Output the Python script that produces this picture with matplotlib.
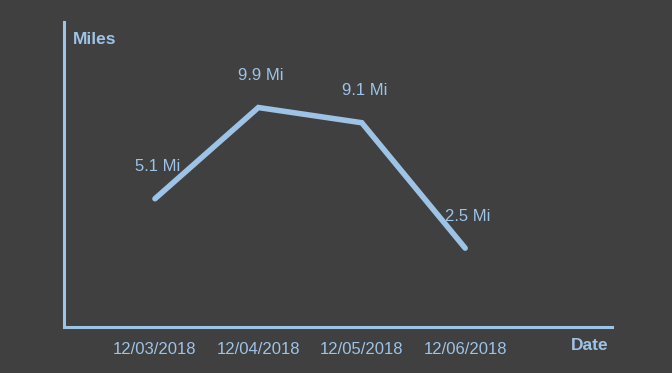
import matplotlib
matplotlib.use("Agg")
import matplotlib.pyplot as plt

dates = ["12/03/2018", "12/04/2018", "12/05/2018", "12/06/2018"]
miles = [5.1, 9.9, 9.1, 2.5]
labels = ["5.1 Mi", "9.9 Mi", "9.1 Mi", "2.5 Mi"]

bg = "#404040"
blue = "#9dc3e6"
plt.rcParams["font.family"] = ["Liberation Sans", "DejaVu Sans"]

fig = plt.figure(figsize=(6.72, 3.73), dpi=100, facecolor=bg)
ax = fig.add_axes([0.0952, 0.1233, 0.8155, 0.8177], facecolor=bg)

x = list(range(len(dates)))
ax.plot(x, miles, color=blue, lw=4, solid_capstyle="round", solid_joinstyle="miter")
for xi, yi, lab in zip(x, miles, labels):
    ax.annotate(lab, (xi, yi), xytext=(2, 23), textcoords="offset points",
                ha="center", va="center", color=blue, fontsize=12)

ax.set_xlim(-0.88, 4.42)
ax.set_ylim(-1.65, 14.4)
ax.set_xticks(x)
ax.set_xticklabels(dates, color=blue, fontsize=12)
ax.set_yticks([])
ax.tick_params(axis="x", length=0, pad=11)

for s in ["top", "right"]:
    ax.spines[s].set_visible(False)
for s in ["left", "bottom"]:
    ax.spines[s].set_color(blue)
    ax.spines[s].set_linewidth(2.2)

fig.text(73 / 672, 1 - 39 / 373, "Miles", color=blue, fontsize=12.5,
         fontweight="bold", ha="left", va="center")
fig.text(608 / 672, 1 - 345 / 373, "Date", color=blue, fontsize=12.5,
         fontweight="bold", ha="right", va="center")

fig.savefig("out.png", dpi=100, facecolor=bg)
